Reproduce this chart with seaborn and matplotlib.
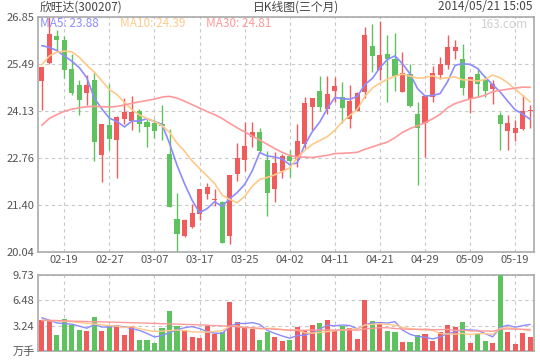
from matplotlib import pyplot as plt
import numpy as np
import pandas as pd
import seaborn as sns

dates = ['02-14', '02-17', '02-18', '02-19', '02-20', '02-21', '02-24', '02-25',
         '02-26', '02-27', '02-28', '03-03', '03-04', '03-05', '03-06', '03-07',
         '03-10', '03-11', '03-12', '03-13', '03-14', '03-17', '03-18', '03-19',
         '03-20', '03-21', '03-24', '03-25', '03-26', '03-27', '03-28', '03-31',
         '04-01', '04-02', '04-03', '04-04', '04-08', '04-09', '04-10', '04-11',
         '04-14', '04-15', '04-16', '04-17', '04-18', '04-21', '04-22', '04-23',
         '04-24', '04-25', '04-28', '04-29', '04-30', '05-05', '05-06', '05-07',
         '05-08', '05-09', '05-12', '05-13', '05-14', '05-15', '05-16', '05-19',
         '05-20', '05-21']
tick_dates = ['02-19', '02-27', '03-07', '03-17', '03-25', '04-02', '04-11',
              '04-21', '04-29', '05-09', '05-19']

opens = [24.99, 25.51, 26.31, 26.19, 25.35, 24.88, 24.64, 25.01, 22.85, 23.71,
         23.28, 23.88, 23.83, 24.12, 23.80, 23.78, 23.75, 22.87, 21.00, 20.49,
         20.75, 21.14, 21.72, 21.54, 21.48, 20.49, 22.30, 22.71, 23.36, 23.52,
         22.72, 21.88, 22.39, 22.82, 22.72, 23.18, 24.24, 24.72, 24.19, 24.72,
         24.52, 23.90, 24.13, 24.69, 26.02, 25.30, 25.78, 25.62, 24.67, 25.20,
         24.03, 23.78, 24.53, 25.18, 25.47, 25.87, 25.62, 24.48, 25.20, 25.01,
         24.75, 24.00, 23.55, 23.50, 23.59, 24.12]
highs = [25.40, 26.85, 26.46, 26.29, 25.78, 25.01, 25.17, 25.27, 23.74, 24.91,
         23.97, 24.50, 24.55, 24.17, 23.90, 23.90, 24.29, 23.60, 21.74, 20.99,
         21.43, 21.88, 22.03, 21.88, 21.52, 22.27, 23.20, 23.81, 23.81, 23.63,
         22.96, 22.94, 22.89, 22.99, 23.76, 24.53, 24.51, 25.15, 25.15, 25.11,
         24.98, 24.89, 24.67, 26.57, 26.66, 26.72, 26.34, 26.40, 25.85, 25.49,
         24.40, 24.55, 25.44, 25.70, 26.34, 26.19, 26.08, 25.12, 25.37, 25.15,
         25.01, 24.11, 24.00, 23.86, 24.60, 24.29]
lows = [24.15, 25.49, 25.85, 25.08, 24.58, 24.02, 24.29, 22.68, 22.08, 22.99,
        22.17, 23.76, 23.57, 23.52, 23.09, 23.35, 23.28, 21.33, 20.04, 20.47,
        20.73, 20.97, 21.57, 21.37, 20.29, 20.27, 22.10, 22.39, 23.09, 22.94,
        21.09, 21.50, 22.17, 22.22, 22.51, 23.04, 23.57, 24.13, 24.03, 24.38,
        23.78, 23.62, 24.13, 24.50, 25.27, 25.03, 24.38, 24.72, 24.67, 24.24,
        21.98, 22.80, 24.38, 25.06, 25.35, 25.63, 24.58, 24.08, 24.53, 24.53,
        24.32, 22.99, 22.99, 23.26, 23.57, 23.62]
closes = [25.39, 26.36, 26.17, 25.30, 24.64, 24.44, 24.88, 23.23, 23.74, 23.31,
          23.95, 24.09, 24.09, 23.74, 23.65, 23.54, 23.68, 21.33, 20.57, 20.97,
          21.17, 21.86, 21.91, 21.58, 20.29, 22.27, 22.75, 23.11, 23.52, 22.97,
          21.76, 22.61, 22.82, 22.68, 23.25, 24.37, 24.51, 24.24, 24.62, 24.84,
          24.21, 24.43, 24.65, 26.34, 25.73, 25.76, 25.63, 25.15, 25.22, 24.26,
          23.62, 24.55, 25.23, 25.49, 25.99, 25.99, 24.79, 25.12, 24.90, 24.72,
          24.91, 23.74, 23.79, 23.64, 24.12, 24.13]
volumes = [3.95, 3.82, 2.02, 4.08, 3.30, 2.66, 2.53, 4.33, 2.53, 3.30,
           3.30, 2.02, 3.18, 1.37, 1.37, 1.03, 2.92, 5.11, 3.18, 2.66,
           1.76, 1.63, 3.18, 2.19, 2.45, 6.27, 3.69, 2.96, 2.79, 1.37,
           2.40, 1.76, 1.29, 1.37, 3.05, 2.66, 3.30, 3.61, 3.95, 2.58,
           3.22, 2.92, 1.50, 6.52, 3.82, 3.43, 2.58, 2.45, 1.12, 1.12,
           2.02, 2.15, 1.29, 2.40, 3.30, 3.05, 3.69, 0.99, 2.15, 1.24,
           0.99, 9.73, 2.40, 0.86, 2.27, 1.76]

# moving averages before a full window exists
ma5_head = [26.02, 25.97, 25.88, 25.72]
ma10_head = [25.46, 25.72, 25.83, 25.86, 25.84, 25.68, 25.45, 25.25, 25.00]
ma30_head = [23.71, 23.91, 24.02, 24.12, 24.18, 24.22, 24.25, 24.26, 24.25,
             24.24, 24.26, 24.30, 24.35, 24.39, 24.43, 24.47, 24.53, 24.55,
             24.50, 24.41, 24.31, 24.21, 24.11, 24.02, 23.91, 23.77, 23.64,
             23.52, 23.40]
vol_ma5_head = [4.25, 3.95, 3.60, 3.50]
vol_ma10_head = [3.90, 3.88, 3.85, 3.80, 3.75, 3.65, 3.55, 3.45, 3.35]
vol_ma30_head = [3.95, 3.93, 3.90, 3.86, 3.82, 3.80, 3.77, 3.75, 3.72, 3.70,
                 3.68, 3.65, 3.62, 3.60, 3.57, 3.53, 3.50, 3.47, 3.44, 3.41,
                 3.38, 3.34, 3.30, 3.26, 3.22, 3.16, 3.10, 3.04, 2.98]
vol_tick_labels = ['万手', '3.24', '6.48', '9.73']

RED = '#f05b5b'
GREEN = '#5ec35e'
MA_COLORS = {'MA5': '#8c8cff', 'MA10': '#ffc98a', 'MA30': '#ff9a9a'}
TEXT = '#555555'
GRID = '#c8c8c8'
EDGE = '#aaaaaa'


def moving_average(values, window, head):
    ma = pd.Series(values).rolling(window).mean()
    ma.iloc[:len(head)] = head
    return ma


def style_axes(ax):
    ax.grid(True, color=GRID, ls=(0, (3, 3)), lw=0.8)
    ax.set_axisbelow(True)
    for side in ['left', 'right', 'top', 'bottom']:
        ax.spines[side].set_visible(True)
        ax.spines[side].set_color(EDGE)
        ax.spines[side].set_linewidth(1.2)
    ax.tick_params(length=0, pad=2.5, labelsize=8, labelcolor=TEXT)
    ax.set(xlabel='', ylabel='')


sns.set_style('white')
plt.rcParams['font.family'] = ['Noto Sans CJK SC', 'DejaVu Sans']

df = pd.DataFrame({'day': range(len(dates)), 'date': dates, 'open': opens,
                   'high': highs, 'low': lows, 'close': closes,
                   'volume': volumes})
df['dir'] = np.where(df['close'] >= df['open'], 'up', 'down')
palette = {'up': RED, 'down': GREEN}
colors = df['dir'].map(palette)

ma = pd.DataFrame({
    'day': df['day'],
    'MA5': moving_average(closes, 5, ma5_head),
    'MA10': moving_average(closes, 10, ma10_head),
    'MA30': moving_average(closes, 30, ma30_head),
}).melt(id_vars='day', var_name='line', value_name='value')
vol_ma = pd.DataFrame({
    'day': df['day'],
    'MA5': moving_average(volumes, 5, vol_ma5_head),
    'MA10': moving_average(volumes, 10, vol_ma10_head),
    'MA30': moving_average(volumes, 30, vol_ma30_head),
}).melt(id_vars='day', var_name='line', value_name='value')

fig = plt.figure(figsize=(5.4, 3.6), dpi=100)
ax = fig.add_axes([38 / 540, 108 / 360, 496 / 540, 235 / 360])
vax = fig.add_axes([38 / 540, 9 / 360, 496 / 540, 76 / 360])

# candles
body_low = df[['open', 'close']].min(axis=1)
body_h = (df['close'] - df['open']).abs().clip(lower=0.025)
ax.vlines(df['day'], df['low'], df['high'], colors=colors, lw=1, zorder=2)
ax.bar(df['day'], body_h, bottom=body_low, width=0.68, color=colors,
       linewidth=0, edgecolor='none', zorder=3)
sns.lineplot(data=ma, x='day', y='value', hue='line', palette=MA_COLORS,
             lw=1.2, legend=False, ax=ax, zorder=4)

lo, hi = df['low'].min(), df['high'].max()
yticks = np.linspace(lo, hi, 6)
ax.set_ylim(lo, hi)
ax.set_yticks(yticks, [f'{t:.2f}' for t in yticks])
ticks = [dates.index(d) for d in tick_dates]
ax.set_xticks(ticks, tick_dates)
ax.set_xlim(-0.5, len(dates) - 0.5)
style_axes(ax)

last = ma.groupby('line')['value'].last()
for name, xpos in [('MA5', 0.004), ('MA10', 0.165), ('MA30', 0.339)]:
    ax.text(xpos, 0.972, f'{name}: {last[name]:.2f}', transform=ax.transAxes,
            ha='left', va='center', fontsize=8.5, color=MA_COLORS[name])
ax.text(0.988, 0.97, '163.com', transform=ax.transAxes, ha='right',
        va='center', fontsize=8.5, color='#cfcfcf')

# volume
sns.barplot(data=df, x='day', y='volume', hue='dir', palette=palette,
            dodge=False, width=0.68, saturation=1, legend=False, ax=vax,
            linewidth=0, edgecolor='none', zorder=3)
sns.lineplot(data=vol_ma, x='day', y='value', hue='line',
             palette=MA_COLORS, lw=1.0, legend=False, ax=vax, zorder=4)
vmax = df['volume'].max()
vax.set_ylim(0, vmax)
vax.set_yticks(np.linspace(0, vmax, 4), vol_tick_labels)
vax.set_xticks(ticks, [''] * len(ticks))
vax.set_xlim(-0.5, len(dates) - 0.5)
style_axes(vax)

fig.text(40 / 540, 1 - 7 / 360, '欣旺达(300207)', ha='left', va='center',
         fontsize=8.5, color='#444444')
fig.text(253 / 540, 1 - 7 / 360, '日K线图(三个月)', ha='left', va='center',
         fontsize=8.5, color='#444444')
fig.text(532 / 540, 1 - 7 / 360, '2014/05/21 15:05', ha='right',
         va='center', fontsize=8.5, color='#444444')

plt.savefig('out.png', dpi=100)
plt.close()
